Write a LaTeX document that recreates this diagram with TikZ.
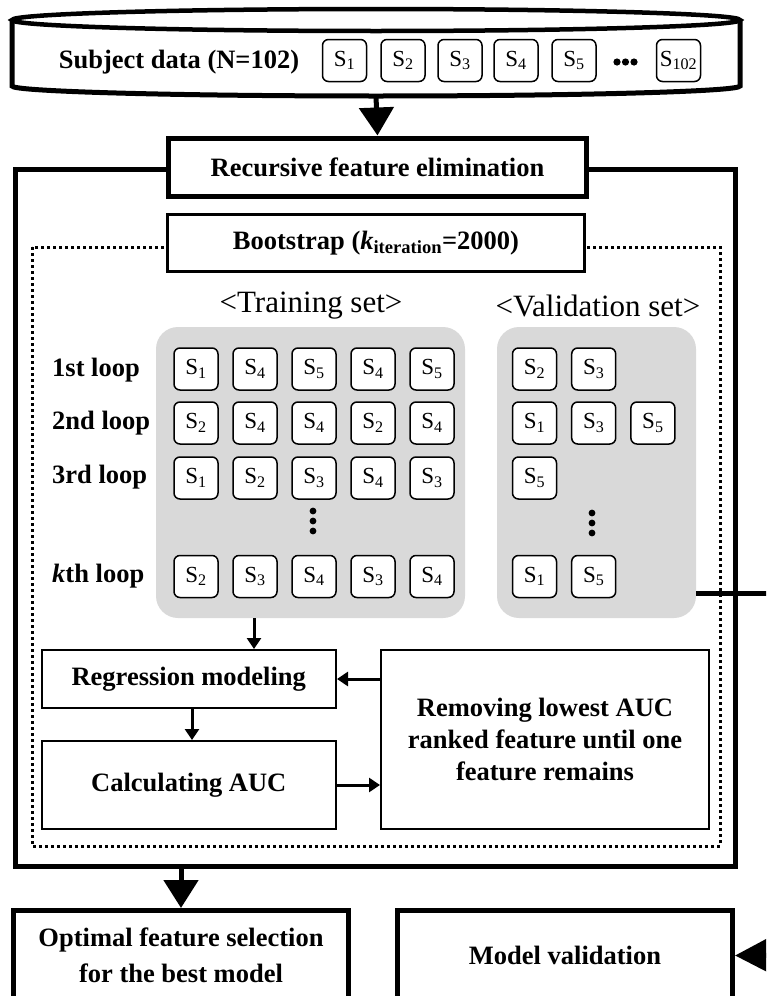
\documentclass[tikz,border=0pt]{standalone}
\usepackage{fontspec}
\setmainfont{Liberation Serif}
\usetikzlibrary{arrows.meta}
\definecolor{setgray}{HTML}{D9D9D9}
\tikzset{
  bf/.style={font=\fontsize{26.5}{32}\selectfont\bfseries, inner sep=0pt},
  lbl/.style={font=\fontsize{31}{36}\selectfont, inner sep=0pt},
  sbox/.style={draw, line width=1.5pt, rounded corners=6pt, minimum width=44pt, minimum height=42pt, inner sep=0pt, fill=white, font=\fontsize{23}{26}\selectfont},
  thickbox/.style={draw, line width=5pt, fill=white, inner sep=0pt},
  medbox/.style={draw, line width=3pt, fill=white, inner sep=0pt},
  midbox/.style={draw, line width=2pt, fill=white, inner sep=0pt, align=center},
  bigarrow/.style={line width=5pt, -{Triangle[width=34pt,length=28pt]}},
  smallarrow/.style={line width=3pt, -{Triangle[width=14pt,length=11pt]}},
  dotline/.style={line width=3pt, dash pattern=on 3pt off 3pt},
  graybox/.style={fill=setgray, rounded corners=22pt, inner sep=0pt},
}
\begin{document}
\begin{tikzpicture}[x=1pt,y=-1pt]
\useasboundingbox (0,0) rectangle (766,996);
\clip (0,0) rectangle (766,996);

% ---- cylinder (subject data)
\draw[line width=5pt, fill=white] (12,20) -- (12,86)
  .. controls (12,91.5) and (175,96) .. (376,96)
  .. controls (577,96) and (740,91.5) .. (740,86) -- (740,20);
\draw[line width=4.5pt, fill=white] (376,20) ellipse [x radius=364, y radius=11];
\node[bf] (subj) at (179,62) {Subject data (N=102)};
\foreach \i/\x in {1/344.5,2/403,3/460,4/516,5/574}
  \node[sbox] (c\i) at (\x,60.5) {S\textsubscript{\i}};
\node[sbox] (c102) at (678.5,60.5) {S\textsubscript{102}};
\foreach \x in {617,625.5,634} \fill (\x,62) circle[radius=3.6];

% ---- outer recursive feature elimination frame
\draw[line width=5pt] (15,169) rectangle (735,866);
\node[thickbox, bf, minimum width=418pt, minimum height=58pt] (rfe) at (377.5,167) {Recursive feature elimination};
\coordinate (cylbot) at (376,96);
\draw[bigarrow] (cylbot) -- (rfe.north);

% ---- bootstrap dotted frame
\draw[dotline] (32,247) rectangle (720,846);
\node[medbox, bf, minimum width=417pt, minimum height=57pt] (boot) at (376,243) {Bootstrap (\textit{k}\textsubscript{iteration}=2000)};

% ---- training / validation sets
\node[lbl] (trl) at (311,306) {<Training set>};
\node[lbl] (val) at (598,306) {<Validation set>};
\node[graybox, minimum width=309pt, minimum height=291pt] (tg) at (310.5,472.5) {};
\node[graybox, minimum width=199pt, minimum height=291pt] (vg) at (596.5,472.5) {};

\node[bf, anchor=west] (l1) at (52,370) {1st loop};
\node[bf, anchor=west] (l2) at (52,423) {2nd loop};
\node[bf, anchor=west] (l3) at (52,477) {3rd loop};
\node[bf, anchor=west] (lk) at (52,576) {\textit{k}th loop};

\foreach \r/\y/\vals in {1/369/{1,4,5,4,5}, 2/423/{2,4,4,2,4}, 3/478/{1,2,3,4,3}, k/576.5/{2,3,4,3,4}} {
  \foreach \v [count=\c] in \vals {
    \node[sbox] (t\r\c) at ({196+59*(\c-1)},\y) {S\textsubscript{\v}};
  }
}
\foreach \r/\y/\vals in {1/369/{2,3}, 2/423/{1,3,5}, 3/478/{5}, k/576.5/{1,5}} {
  \foreach \v [count=\c] in \vals {
    \node[sbox] (v\r\c) at ({534.5+59.2*(\c-1)},\y) {S\textsubscript{\v}};
  }
}
\foreach \y in {511,521,531} \fill (313,\y) circle[radius=3.4];
\foreach \y in {513,523,533} \fill (592,\y) circle[radius=3.4];

% line from validation set to the right edge
\coordinate (vlineend) at (780,593);
\draw[line width=5pt] (vg.east |- vlineend) -- (vlineend);

% ---- modeling boxes
\node[midbox, bf, minimum width=294.5pt, minimum height=58pt] (reg) at (188.75,679) {Regression modeling};
\node[midbox, bf, minimum width=294.5pt, minimum height=88pt] (calc) at (188.75,785) {Calculating AUC};
\node[midbox, bf, minimum width=328pt, minimum height=179pt] (rem) at (545,739.5) {Removing lowest AUC\\ranked feature until one\\feature remains};

\coordinate (a1) at (254,0);
\coordinate (a2) at (192,0);
\draw[smallarrow] (a1 |- tg.south) -- (a1 |- reg.north);
\draw[smallarrow] (a2 |- reg.south) -- (a2 |- calc.north);
\draw[smallarrow] (rem.west |- reg.east) -- (reg.east);
\draw[smallarrow] (calc.east) -- (calc.east -| rem.west);

% ---- bottom boxes
\node[thickbox, bf, align=center, minimum width=335pt, minimum height=90pt] (opt) at (181,955.5) {Optimal feature selection\\[4pt]for the best model};
\node[thickbox, bf, minimum width=335pt, minimum height=90pt] (mv) at (565,955.5) {Model validation};
\coordinate (outbot) at (181,866);
\draw[bigarrow] (outbot) -- (opt.north);
\coordinate (rin) at (800,955);
\draw[line width=5pt, -{Triangle[width=32pt,length=32pt]}] (rin) -- (mv.east);
\end{tikzpicture}
\end{document}
